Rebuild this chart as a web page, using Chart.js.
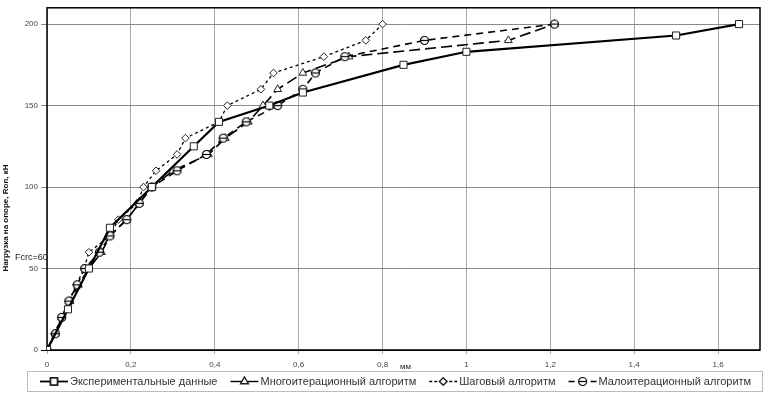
<!DOCTYPE html>
<html><head><meta charset="utf-8">
<script src="https://cdn.jsdelivr.net/npm/chart.js@4/dist/chart.umd.min.js"></script>
<style>html,body{margin:0;padding:0;background:#fff}#wrap{width:767px;height:395px}</style>
</head><body><div id="wrap"><canvas id="c" width="767" height="395"></canvas></div>
<script>
const loadLevels = [0,10,20,30,40,50,60,70,80,90,100,110,120,130,140,150,160,170,180,190,200];
const expX = [0, 0.05, 0.1, 0.15, 0.25, 0.35, 0.41, 0.53, 0.61, 0.85, 1.0, 1.5, 1.65];
const expY = [0, 25, 50, 75, 100, 125, 140, 150, 158, 175, 183, 193, 200];
const multiX = [0, 0.02, 0.035, 0.055, 0.075, 0.1, 0.13, 0.15, 0.19, 0.22, 0.25, 0.3, 0.385, 0.425, 0.48, 0.515, 0.55, 0.61, 0.72, 1.10, 1.21];
const stepX = [0, 0.017, 0.035, 0.052, 0.07, 0.088, 0.1, 0.15, 0.17, 0.215, 0.23, 0.26, 0.31, 0.33, 0.41, 0.43, 0.51, 0.54, 0.66, 0.76, 0.80];
const lowX = [0, 0.02, 0.035, 0.052, 0.072, 0.09, 0.125, 0.15, 0.19, 0.22, 0.25, 0.31, 0.38, 0.42, 0.475, 0.55, 0.61, 0.64, 0.71, 0.90, 1.21];
const seriesNames = ['Экспериментальные данные','Многоитерационный алгоритм','Шаговый алгоритм','Малоитерационный алгоритм'];
const xTicks = [0, 0.2, 0.4, 0.6, 0.8, 1, 1.2, 1.4, 1.6];
const yTicks = [0, 50, 100, 150, 200];

function pts(xs, ys){ return xs.map((x,i)=>({x:x, y:ys[i]})); }

function circleBar(r){
  const c = document.createElement('canvas');
  const s = Math.ceil(2*r+3); c.width = s; c.height = s;
  const g = c.getContext('2d');
  g.fillStyle='#fff'; g.strokeStyle='#000'; g.lineWidth=1.2;
  g.beginPath(); g.arc(s/2,s/2,r,0,Math.PI*2); g.fill(); g.stroke();
  g.beginPath(); g.moveTo(s/2-r,s/2); g.lineTo(s/2+r,s/2); g.stroke();
  return c;
}
const cb = circleBar(4);

const datasets = [
  {label:seriesNames[0], data:pts(expX,expY), borderColor:'#000', borderWidth:2.2, pointStyle:'rect', pointRadius:5, pointBackgroundColor:'#fff', pointBorderColor:'#222', pointBorderWidth:1, borderDash:[], order:0},
  {label:seriesNames[1], data:pts(multiX,loadLevels), borderColor:'#000', borderWidth:1.6, pointStyle:'triangle', pointRadius:4.5, pointBackgroundColor:'#fff', pointBorderColor:'#222', pointBorderWidth:1, borderDash:[11,5], order:2},
  {label:seriesNames[2], data:pts(stepX,loadLevels), borderColor:'#000', borderWidth:1.3, pointStyle:'rectRot', pointRadius:3.8, pointBackgroundColor:'#fff', pointBorderColor:'#222', pointBorderWidth:1, borderDash:[3,3], order:3},
  {label:seriesNames[3], data:pts(lowX,loadLevels), borderColor:'#000', borderWidth:1.6, pointStyle:cb, pointRadius:4, pointBackgroundColor:'#fff', pointBorderColor:'#222', borderDash:[7,5], order:1}
];

const fmt = v => String(v).replace('.', ',');
const FONT = '"Liberation Sans", Arial, sans-serif';

const extras = {
  id:'extras',
  beforeDatasetsDraw(chart){
    const ctx = chart.ctx, a = chart.chartArea;
    ctx.save();
    ctx.strokeStyle='#000'; ctx.lineWidth=1.5;
    ctx.strokeRect(a.left, a.top, a.right-a.left, a.bottom-a.top);
    ctx.restore();
  },
  afterDraw(chart){
    const ctx = chart.ctx;
    const xs = chart.scales.x, ys = chart.scales.y;
    ctx.save();
    ctx.translate(6, 218); ctx.rotate(-Math.PI/2);
    ctx.fillStyle='#111'; ctx.font='bold 8px ' + FONT;
    ctx.textAlign='center'; ctx.textBaseline='middle';
    ctx.fillText('Нагрузка на опоре, Rоп, кН', 0, 0);
    ctx.restore();
    ctx.save();
    ctx.fillStyle='#222'; ctx.font='9px ' + FONT;
    ctx.textAlign='left'; ctx.textBaseline='middle';
    ctx.fillText('Fcrc=60', 15, 258);
    ctx.font='8px ' + FONT; ctx.textAlign='center';
    ctx.fillText('мм', xs.getPixelForValue(0.855), 367);
    // legend
    ctx.strokeStyle='#bbb'; ctx.lineWidth=1;
    ctx.strokeRect(27.5, 371.5, 735, 20);
    const ly = 381.5;
    let xpos = 40;
    ctx.font='11px ' + FONT;
    datasets.forEach((d, i)=>{
      const l = xpos, r = xpos + 28;
      ctx.save();
      ctx.strokeStyle='#000'; ctx.lineWidth = i===0 ? 1.8 : 1.4;
      const dash = i===2 ? [3,2] : (i===3 ? [6,5] : []);
      ctx.setLineDash(dash);
      ctx.beginPath(); ctx.moveTo(l, ly); ctx.lineTo(r, ly); ctx.stroke();
      ctx.setLineDash([]);
      ctx.fillStyle='#fff'; ctx.strokeStyle='#222';
      Chart.helpers.drawPoint(ctx, {pointStyle:d.pointStyle, radius:d.pointRadius, borderWidth:1, rotation:0}, (l+r)/2, ly);
      ctx.restore();
      ctx.fillStyle='#333';
      ctx.textAlign='left'; ctx.textBaseline='middle';
      ctx.fillText(d.label, r + 2, ly + 0.5);
      xpos = r + 2 + ctx.measureText(d.label).width + 13;
    });
    ctx.restore();
  }
};

new Chart(document.getElementById('c'), {
  type:'scatter',
  data:{datasets:datasets},
  options:{
    responsive:false, animation:false, devicePixelRatio:1,
    layout:{padding:{top:6, right:7, left:0, bottom:0}},
    elements:{line:{tension:0, fill:false}},
    datasets:{scatter:{showLine:true}},
    plugins:{legend:{display:false}, tooltip:{enabled:false}},
    scales:{
      x:{type:'linear', min:0, max:1.7,
        afterBuildTicks(s){ s.ticks = xTicks.map(v=>({value:v})); },
        afterFit(s){ s.height = 45; },
        grid:{color:'#a8a8a8', lineWidth:1, tickLength:4, drawTicks:true},
        border:{display:false},
        ticks:{color:'#444', font:{size:8, family:FONT}, padding:6, maxRotation:0, callback:v=>fmt(v)}
      },
      y:{type:'linear', min:0, max:210,
        afterBuildTicks(s){ s.ticks = yTicks.map(v=>({value:v})); },
        afterFit(s){ s.width = 47; },
        grid:{color:(c)=> c.tick && c.tick.value===0 ? '#000' : '#8a8a8a', lineWidth:1, tickLength:6},
        border:{display:false},
        ticks:{color:'#444', font:{size:8, family:FONT}, padding:3}
      }
    }
  },
  plugins:[extras]
});
</script></body></html>
